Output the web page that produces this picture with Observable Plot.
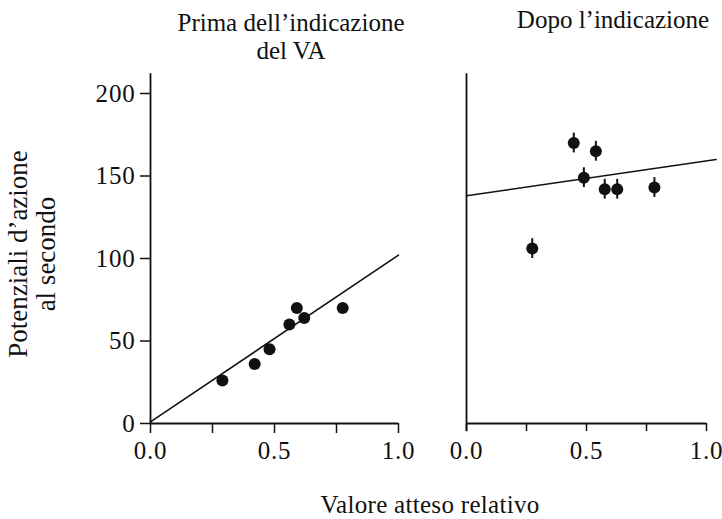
<!DOCTYPE html>
<html>
<head>
<meta charset="utf-8">
<script src="https://cdn.jsdelivr.net/npm/d3@7"></script>
<script src="https://cdn.jsdelivr.net/npm/@observablehq/plot@0.6"></script>
<style>
  html, body { margin: 0; padding: 0; background: #fff; }
  #wrap { position: relative; width: 722px; height: 519px; font-family: "Liberation Serif", "DejaVu Serif", serif; color: #111; overflow: hidden; }
  .t { position: absolute; white-space: nowrap; font-size: 25px; line-height: 1; }
  #wrap svg { position: absolute; top: 0; }
</style>
</head>
<body>
<div id="wrap">
  <div class="t" style="left:291px; top:9px; transform:translateX(-50%); text-align:center; line-height:28px;">Prima dell’indicazione<br>del VA</div>
  <div class="t" style="left:613px; top:7px; transform:translateX(-50%);">Dopo l’indicazione</div>
  <div class="t" style="left:430px; top:492px; transform:translateX(-50%); letter-spacing:0.3px;">Valore atteso relativo</div>
  <div class="t" style="left:32px; top:254px; transform:translate(-50%,-50%) rotate(-90deg); text-align:center; line-height:28px; font-size:27px;">Potenziali d’azione<br>al secondo</div>
</div>
<script>
// ---- data ----
const beforeX = [0.29, 0.42, 0.48, 0.56, 0.59, 0.62, 0.775];
const beforeY = [26, 36, 45, 60, 70, 64, 70];
const beforeFitX = [0, 1.0];
const beforeFitY = [1, 102];

const afterX = [0.274, 0.447, 0.489, 0.539, 0.576, 0.628, 0.783];
const afterY = [106, 170, 149, 165, 142, 142, 143];
const afterErr = [6, 6, 6, 6, 6, 6, 6];
const afterFitX = [0, 1.04];
const afterFitY = [138, 160];

const xTicks = [0, 0.25, 0.5, 0.75, 1.0];
const xTickLabels = {0: "0.0", 0.5: "0.5", 1: "1.0"};
const yTicks = [0, 50, 100, 150, 200];

const before = beforeX.map((x, i) => ({x, y: beforeY[i]}));
const beforeFit = beforeFitX.map((x, i) => ({x, y: beforeFitY[i]}));
const after = afterX.map((x, i) => ({x, y: afterY[i], e: afterErr[i]}));
const afterFit = afterFitX.map((x, i) => ({x, y: afterFitY[i]}));

const style = {fontFamily: "Liberation Serif, serif", fontSize: "25px", letterSpacing: "0.8px", background: "transparent", color: "#111", overflow: "visible"};
const fmt = d => xTickLabels[d] ?? "";

const left = Plot.plot({
  width: 430, height: 470,
  marginLeft: 150, marginRight: 32, marginTop: 93, marginBottom: 47,
  x: {domain: [0, 1]},
  y: {domain: [0, 200]},
  style,
  marks: [
    Plot.axisX({ticks: xTicks, tickFormat: fmt, tickSize: 10, tickPadding: 8, label: null, strokeWidth: 1.5}),
    Plot.axisY({ticks: yTicks, tickSize: 10, tickPadding: 5, label: null, strokeWidth: 1.5}),
    Plot.ruleX([0], {y1: 0, y2: 212, strokeWidth: 1.8}),
    Plot.ruleY([0], {x1: 0, x2: 1, strokeWidth: 1.8}),
    Plot.line(beforeFit, {x: "x", y: "y", strokeWidth: 1.6, stroke: "#111"}),
    Plot.dot(before, {x: "x", y: "y", r: 6, fill: "#111", stroke: "none"})
  ]
});
left.style.left = "0px";

const right = Plot.plot({
  width: 292, height: 470,
  marginLeft: 36, marginRight: 16, marginTop: 93, marginBottom: 47,
  x: {domain: [0, 1]},
  y: {domain: [0, 200], axis: null},
  style,
  marks: [
    Plot.axisX({ticks: xTicks, tickFormat: fmt, tickSize: 8, tickPadding: 10, label: null, strokeWidth: 1.5}),
    Plot.ruleX([0], {y1: -5, y2: 212, strokeWidth: 1.8}),
    Plot.ruleY([0], {x1: 0, x2: 1, strokeWidth: 1.8}),
    Plot.line(afterFit, {x: "x", y: "y", strokeWidth: 1.6, stroke: "#111"}),
    Plot.ruleX(after, {x: "x", y1: d => d.y - d.e, y2: d => d.y + d.e, strokeWidth: 2, stroke: "#111"}),
    Plot.dot(after, {x: "x", y: "y", r: 6, fill: "#111", stroke: "none"})
  ]
});
right.style.left = "430px";

const wrap = document.getElementById("wrap");
wrap.appendChild(left);
wrap.appendChild(right);
</script>
</body>
</html>
